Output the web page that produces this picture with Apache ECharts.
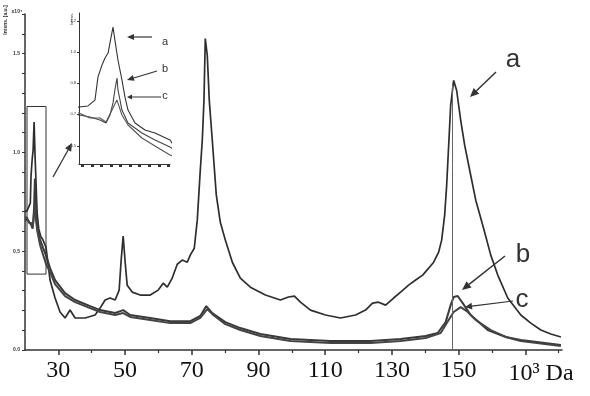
<!DOCTYPE html>
<html>
<head>
<meta charset="utf-8">
<script src="https://cdn.jsdelivr.net/npm/echarts@6/dist/echarts.min.js"></script>
<style>html,body{margin:0;padding:0;background:#fff}#c{width:590px;height:396px}</style>
</head>
<body>
<div id="c"></div>
<script>
// ---- axis settings (10^3 Da / Intens. x10^4 a.u.) ----
const xMin = 20, xMax = 181;
const yMin = 0, yMax = 1.7;
const xLabelValues = [30, 50, 70, 90, 110, 130, 150];
const xMajorTicks = [30, 50, 70, 90, 110, 130, 150, 170];
const xMinorTicks = [40, 60, 80, 100, 120, 140, 160, 180];
const yLabelValues = [0, 0.5, 1.0, 1.5];
// zoom box / inset range
const boxX = [20.6, 26.3];
const boxY = [0.384, 1.232];
const insetXTicks = [20.8, 21.4, 22.0, 22.6, 23.2, 23.8, 24.4, 25.0, 25.6, 26.2];
const insetYTicks = [0.485, 0.665, 0.839, 1.013, 1.187];
const markerMass = 148.2;
const markerTop = 1.35;

// ---- spectra [mass (10^3 Da), intensity (x10^4)] ----
const curveA = [
 [20.0,0.70],[20.6,0.704],[21.16,0.71],[21.6,0.743],[21.79,0.873],[22.04,0.94],[22.23,0.979],[22.42,1.007],
 [22.54,1.064],[22.73,1.153],[22.85,1.08],[23.04,0.968],[23.29,0.856],[23.48,0.76],[23.67,0.687],[24.11,0.614],
 [24.73,0.575],[25.36,0.558],[26.3,0.519],
 [27.51,0.354],[29.01,0.263],[30.51,0.192],[32.01,0.162],[33.51,0.202],[35.02,0.162],[38.02,0.162],[41.02,0.177],
 [42.52,0.212],[44.02,0.253],[45.53,0.263],[47.03,0.253],[48.23,0.303],[48.83,0.455],[49.43,0.576],[50.03,0.444],
 [50.63,0.328],[52.13,0.293],[54.53,0.278],[57.54,0.278],[59.94,0.303],[61.44,0.338],[62.64,0.318],[64.14,0.364],
 [65.65,0.434],[67.15,0.455],[68.65,0.444],[69.55,0.48],[70.75,0.515],[71.65,0.657],[72.55,0.909],[73.15,1.061],
 [73.66,1.263],[74.05,1.576],[74.65,1.49],[75.25,1.263],[76.15,1.061],[77.36,0.783],[78.56,0.646],[80.06,0.556],
 [82.16,0.444],[84.56,0.364],[87.57,0.318],[92.07,0.278],[96.58,0.253],[98.98,0.268],[100.78,0.273],[102.58,0.242],
 [105.59,0.202],[110.09,0.177],[114.59,0.162],[119.1,0.177],[122.1,0.202],[124.2,0.237],[126.01,0.242],[128.11,0.227],
 [130.51,0.263],[132.61,0.293],[135.01,0.328],[137.12,0.354],[139.22,0.379],[141.02,0.414],[142.52,0.444],[144.02,0.495],
 [144.92,0.556],[145.82,0.682],[146.42,0.833],[147.02,1.035],[147.62,1.237],[148.52,1.364],[149.42,1.313],[150.63,1.162],
 [151.83,1.035],[153.63,0.884],[155.14,0.758],[157.24,0.631],[159.64,0.48],[161.74,0.379],[164.74,0.263],[168.65,0.177],
 [171.65,0.136],[174.65,0.101],[177.66,0.081],[180.66,0.066]
];
const curveB = [
 [20.0,0.66],[20.6,0.659],[21.29,0.648],[21.91,0.631],[22.29,0.614],[22.54,0.659],[22.73,0.727],[22.85,0.80],
 [22.98,0.867],[23.04,0.80],[23.17,0.743],[23.29,0.687],[23.67,0.614],[24.54,0.558],[25.36,0.519],[26.3,0.479],
 [27.51,0.414],[29.01,0.354],[32.01,0.288],[35.02,0.253],[39.52,0.222],[42.52,0.202],[47.03,0.187],[49.43,0.202],
 [51.53,0.177],[57.54,0.162],[63.54,0.146],[69.55,0.146],[72.55,0.172],[74.35,0.222],[76.15,0.187],[80.06,0.141],
 [84.56,0.111],[90.57,0.081],[99.58,0.056],[111.59,0.045],[123.6,0.045],[132.61,0.056],[140.12,0.071],[143.72,0.086],
 [146.12,0.141],[147.62,0.227],[148.52,0.268],[149.72,0.273],[151.23,0.237],[153.63,0.177],[158.74,0.101],[164.14,0.066],
 [168.65,0.051],[180.66,0.025]
];
const curveC = [
 [20.0,0.67],[20.6,0.67],[21.29,0.642],[21.91,0.642],[22.29,0.62],[22.67,0.687],[22.85,0.721],[22.98,0.743],
 [23.1,0.71],[23.29,0.659],[23.67,0.603],[24.54,0.53],[25.36,0.485],[26.3,0.435],
 [27.51,0.394],[29.01,0.333],[32.01,0.273],[35.02,0.242],[39.52,0.212],[42.52,0.192],[47.03,0.177],[49.43,0.187],
 [51.53,0.167],[57.54,0.152],[63.54,0.136],[69.55,0.136],[72.55,0.162],[74.65,0.207],[76.45,0.177],[80.06,0.131],
 [84.56,0.101],[90.57,0.071],[99.58,0.045],[111.59,0.035],[123.6,0.035],[132.61,0.045],[140.12,0.061],[144.62,0.086],
 [147.02,0.152],[148.52,0.192],[150.63,0.217],[152.43,0.197],[155.14,0.152],[159.64,0.101],[164.14,0.066],[168.65,0.045],
 [180.66,0.02]
];
const seriesNames = ['a', 'b', 'c'];

// ---- drawing ----
const chart = echarts.init(document.getElementById('c'), null, {renderer: 'canvas'});
const ink = '#333';
function arrow(x1, y1, x2, y2, hl, hw, lw) {
  const dx = x2 - x1, dy = y2 - y1, L = Math.hypot(dx, dy), ux = dx / L, uy = dy / L;
  const bx = x2 - ux * hl, by = y2 - uy * hl;
  return [
    {type: 'line', shape: {x1: x1, y1: y1, x2: bx, y2: by}, style: {stroke: ink, lineWidth: lw}},
    {type: 'polygon', shape: {points: [[x2, y2], [bx - uy * hw, by + ux * hw], [bx + uy * hw, by - ux * hw]]}, style: {fill: ink}}
  ];
}
const sans = 'Liberation Sans, Arial, sans-serif';
const serif = 'Liberation Serif, Times New Roman, serif';
const graphics = [].concat(
  arrow(496, 72, 470, 97, 9, 4, 1.5),
  arrow(505, 256, 462, 290, 9, 4, 1.5),
  arrow(513, 301, 465, 307, 7, 3.5, 1.2),
  arrow(152, 37, 127, 37, 7, 3, 1.2),
  arrow(157, 71, 127, 80, 7, 3, 1.2),
  arrow(161, 97, 127, 97, 5, 2.5, 1),
  arrow(53, 177, 72, 143, 8, 3.5, 1.3),
  [
    {type: 'text', x: 513, y: 60, style: {text: 'a', font: '26px ' + sans, fill: ink, align: 'center', verticalAlign: 'middle'}},
    {type: 'text', x: 523, y: 255, style: {text: 'b', font: '26px ' + sans, fill: ink, align: 'center', verticalAlign: 'middle'}},
    {type: 'text', x: 522, y: 300, style: {text: 'c', font: '26px ' + sans, fill: ink, align: 'center', verticalAlign: 'middle'}},
    {type: 'text', x: 165, y: 42, style: {text: 'a', font: '11px ' + sans, fill: ink, align: 'center', verticalAlign: 'middle'}},
    {type: 'text', x: 165, y: 69, style: {text: 'b', font: '11px ' + sans, fill: ink, align: 'center', verticalAlign: 'middle'}},
    {type: 'text', x: 165, y: 96, style: {text: 'c', font: '11px ' + sans, fill: ink, align: 'center', verticalAlign: 'middle'}},
    {type: 'text', x: 541, y: 374, style: {text: '10³ Da', font: '24px ' + serif, fill: '#111', align: 'center', verticalAlign: 'middle'}},
    {type: 'text', x: 6, y: 20, rotation: Math.PI / 2, style: {text: 'Intens. [a.u.]', font: 'bold 5px ' + sans, fill: ink, align: 'center', verticalAlign: 'middle'}},
    {type: 'text', x: 17, y: 12, style: {text: 'x10⁴', font: 'bold 5px ' + sans, fill: ink, align: 'center', verticalAlign: 'middle'}},
    {type: 'text', x: 72, y: 19, rotation: Math.PI / 2, style: {text: 'Intens.', font: '4px ' + sans, fill: ink, align: 'center', verticalAlign: 'middle'}}
  ]
);

function mainSeries(name, data, color, width, extra) {
  return Object.assign({
    name: name, type: 'line', xAxisIndex: 0, yAxisIndex: 0, data: data, showSymbol: false,
    lineStyle: {color: color, width: width}, silent: true, animation: false, z: 3
  }, extra || {});
}
function insetSeries(name, data, color) {
  return {
    name: name + '-inset', type: 'line', xAxisIndex: 2, yAxisIndex: 1, data: data, showSymbol: false,
    lineStyle: {color: color, width: 1.1}, silent: true, animation: false, clip: true
  };
}

const option = {
  animation: false,
  backgroundColor: '#fff',
  grid: [
    {left: 25, right: 28, top: 14, bottom: 46},
    {left: 79, top: 13, width: 91, height: 151}
  ],
  xAxis: [
    {type: 'value', gridIndex: 0, min: xMin, max: xMax,
     axisLine: {show: true, lineStyle: {color: ink, width: 1.5}},
     axisTick: {show: true, customValues: xMajorTicks, length: 5, lineStyle: {color: ink, width: 1.5}},
     axisLabel: {customValues: xLabelValues, fontFamily: serif, fontSize: 24, color: '#111', margin: 9},
     splitLine: {show: false}},
    {type: 'value', gridIndex: 0, min: xMin, max: xMax, position: 'bottom',
     axisLine: {show: false},
     axisTick: {show: true, customValues: xMinorTicks, length: 3, lineStyle: {color: ink, width: 1.2}},
     axisLabel: {show: false}, splitLine: {show: false}},
    {type: 'value', gridIndex: 1, min: boxX[0], max: boxX[1],
     axisLine: {show: true, lineStyle: {color: ink, width: 1}},
     axisTick: {show: true, customValues: insetXTicks, length: 3, lineStyle: {color: ink, width: 3}},
     axisLabel: {show: false}, splitLine: {show: false}}
  ],
  yAxis: [
    {type: 'value', gridIndex: 0, min: yMin, max: yMax, interval: 0.1,
     axisLine: {show: true, lineStyle: {color: ink, width: 1.5}},
     axisTick: {show: true, length: 3, lineStyle: {color: ink, width: 1}},
     axisLabel: {customValues: yLabelValues, formatter: v => v.toFixed(1), fontSize: 5, fontWeight: 'bold', fontFamily: sans, color: ink, margin: 5},
     splitLine: {show: false}},
    {type: 'value', gridIndex: 1, min: boxY[0], max: boxY[1],
     axisLine: {show: true, lineStyle: {color: ink, width: 1}},
     axisTick: {show: true, customValues: insetYTicks, length: 2, lineStyle: {color: ink, width: 1}},
     axisLabel: {customValues: insetYTicks, formatter: v => v.toFixed(1), fontSize: 4, fontFamily: sans, color: ink, margin: 3},
     splitLine: {show: false}}
  ],
  series: [
    mainSeries(seriesNames[0], curveA, '#2e2e2e', 1.7, {
      markLine: {silent: true, symbol: ['none', 'none'], animation: false,
        lineStyle: {color: '#666', width: 1, type: 'solid'}, label: {show: false},
        data: [[{coord: [markerMass, 0]}, {coord: [markerMass, markerTop]}]]}
    }),
    mainSeries(seriesNames[1], curveB, '#3a3a3a', 2, {
      markArea: {silent: true, animation: false,
        itemStyle: {color: 'rgba(0,0,0,0)', borderColor: ink, borderWidth: 1},
        data: [[{coord: [boxX[0], boxY[0]]}, {coord: [boxX[1], boxY[1]]}]]}
    }),
    mainSeries(seriesNames[2], curveC, '#444', 2),
    insetSeries(seriesNames[0], curveA, '#333'),
    insetSeries(seriesNames[1], curveB, '#444'),
    insetSeries(seriesNames[2], curveC, '#555')
  ],
  graphic: graphics
};
chart.setOption(option);
</script>
</body>
</html>
